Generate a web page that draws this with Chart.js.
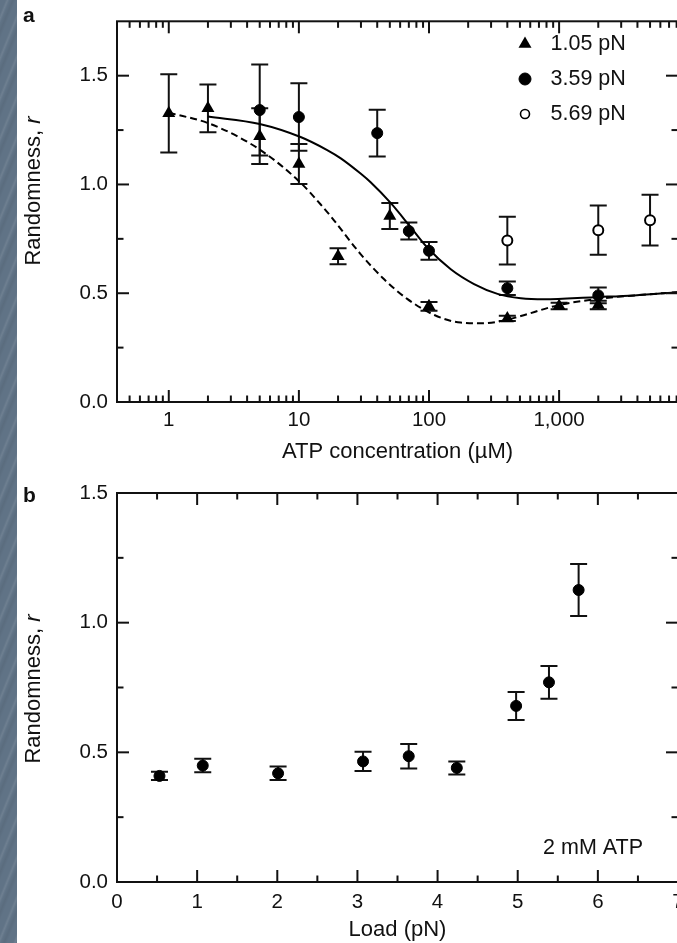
<!DOCTYPE html>
<html><head><meta charset="utf-8">
<script src="https://cdn.jsdelivr.net/npm/chart.js@4.4.1/dist/chart.umd.min.js"></script>
<style>
html,body{margin:0;padding:0;background:#fff;width:677px;height:943px;overflow:hidden;position:relative}
#stripe{position:absolute;left:0;top:0;width:17px;height:943px;z-index:5;background-color:#607386;
background-image:repeating-linear-gradient(112deg,rgba(255,255,255,0) 0px,rgba(255,255,255,0) 5px,rgba(255,255,255,0.09) 7px,rgba(255,255,255,0) 9px,rgba(0,0,0,0.06) 12px,rgba(255,255,255,0) 15px)}
canvas{position:absolute;left:0}
#ca{top:0;width:720px;height:470px}
#cb{top:470px;width:720px;height:473px}
</style></head><body>
<div id="stripe"></div>
<canvas id="ca" width="720" height="470"></canvas>
<canvas id="cb" width="720" height="473"></canvas>
<script>
// ---------- Panel a data ----------
const atpTickValues = [1, 10, 100, 1000];
const atpTickLabels = ['1', '10', '100', '1,000'];
const rTickValues = [0, 0.5, 1.0, 1.5];
const rTickLabels = ['0.0', '0.5', '1.0', '1.5'];
const rMinorTicks = [0.25, 0.75, 1.25];
const seriesLabels = ['1.05 pN', '3.59 pN', '5.69 pN'];

const atp105 = [1, 2, 5, 10, 20, 50, 100, 400, 1000, 2000];
const r105   = [1.327, 1.35, 1.222, 1.094, 0.67, 0.855, 0.44, 0.384, 0.441, 0.446];
const err105 = [0.18, 0.11, 0.128, 0.092, 0.037, 0.06, 0.02, 0.012, 0.015, 0.02];

const atp359 = [5, 10, 40, 70, 100, 400, 2000];
const r359   = [1.342, 1.31, 1.236, 0.786, 0.695, 0.523, 0.49];
const err359 = [0.209, 0.155, 0.107, 0.039, 0.041, 0.031, 0.036];

const atp569 = [400, 2000, 5000];
const r569   = [0.742, 0.79, 0.836];
const err569 = [0.11, 0.113, 0.117];

const fitAtp359 = [2, 5, 10.3, 16.5, 21, 29.8, 35.6, 50.7, 72, 97, 147, 222, 336, 508, 767, 1860, 3775, 8200];
const fitR359   = [1.312, 1.278, 1.218, 1.158, 1.12, 1.05, 1.01, 0.915, 0.805, 0.71, 0.61, 0.542, 0.497, 0.477, 0.472, 0.482, 0.49, 0.505];

const fitAtp105 = [1, 2.09, 5.07, 10.3, 14.6, 17.5, 29.8, 45, 68, 110, 175, 265, 400, 508, 972, 1860, 3775, 8200];
const fitR105   = [1.33, 1.278, 1.158, 1.008, 0.91, 0.855, 0.68, 0.565, 0.474, 0.40, 0.365, 0.362, 0.378, 0.395, 0.444, 0.472, 0.49, 0.505];

// ---------- Panel b data ----------
const loadTickValues = [0, 1, 2, 3, 4, 5, 6, 7];
const loadTickLabels = ['0', '1', '2', '3', '4', '5', '6', '7'];
const loadMinorTicks = [0.5, 1.5, 2.5, 3.5, 4.5, 5.5, 6.5];
const loadPN  = [0.53, 1.07, 2.01, 3.07, 3.64, 4.24, 4.98, 5.39, 5.76];
const rLoad   = [0.409, 0.449, 0.419, 0.465, 0.485, 0.44, 0.679, 0.77, 1.126];
const errLoad = [0.016, 0.026, 0.026, 0.037, 0.047, 0.025, 0.054, 0.063, 0.10];

const FONT = "'Liberation Sans', Arial, Helvetica, sans-serif";
const INK = '#111';
Chart.defaults.font.family = FONT;
Chart.defaults.color = INK;

// minor log ticks (2..9 multiples of each decade inside range)
const atpMinorTicks = [];
[0.1, 1, 10, 100, 1000].forEach(d => { for (let k = 2; k <= 9; k++) { const v = d * k; if (v >= 0.4 && v <= 8200 && v !== 1 && v !== 10 && v !== 100 && v !== 1000) atpMinorTicks.push(v); } });

const pts = (xs, ys) => xs.map((x, i) => ({x, y: ys[i]}));

const errorBarPlugin = {
  id: 'errorBars',
  beforeDatasetsDraw(chart) {
    const {ctx, scales: {x, y}} = chart;
    ctx.save();
    ctx.strokeStyle = INK; ctx.lineWidth = 2;
    chart.data.datasets.forEach(ds => {
      if (!ds.errorBars) return;
      ds.data.forEach((p, i) => {
        const e = ds.errorBars[i];
        const px = x.getPixelForValue(p.x);
        const y1 = y.getPixelForValue(p.y + e), y2 = y.getPixelForValue(p.y - e);
        ctx.beginPath();
        ctx.moveTo(px, y1); ctx.lineTo(px, y2);
        ctx.moveTo(px - 8.5, y1); ctx.lineTo(px + 8.5, y1);
        ctx.moveTo(px - 8.5, y2); ctx.lineTo(px + 8.5, y2);
        ctx.stroke();
      });
    });
    ctx.restore();
  }
};

const frameTicksPlugin = {
  id: 'frameTicks',
  afterDraw(chart, args, o) {
    const {ctx, chartArea: a, scales: {x, y}} = chart;
    ctx.save();
    ctx.strokeStyle = INK;
    ctx.lineWidth = 2;
    ctx.strokeRect(a.left, a.top, a.right - a.left, a.bottom - a.top);
    const seg = (x1, y1, x2, y2) => { ctx.beginPath(); ctx.moveTo(x1, y1); ctx.lineTo(x2, y2); ctx.stroke(); };
    const xt = (v, len) => { const px = x.getPixelForValue(v); seg(px, a.bottom, px, a.bottom - len); seg(px, a.top, px, a.top + len); };
    const yt = (v, len) => { const py = y.getPixelForValue(v); seg(a.left, py, a.left + len, py); seg(a.right, py, a.right - len, py); };
    o.xMajor.forEach(v => xt(v, 12)); o.xMinor.forEach(v => xt(v, 6.5));
    o.yMajor.forEach(v => yt(v, 12)); o.yMinor.forEach(v => yt(v, 6.5));
    ctx.restore();
  }
};

const textPlugin = {
  id: 'extraText',
  afterDraw(chart, args, o) {
    const {ctx} = chart;
    ctx.save();
    ctx.fillStyle = INK;
    ctx.font = 'bold 21px ' + FONT;
    ctx.textAlign = 'left'; ctx.textBaseline = 'alphabetic';
    ctx.fillText(o.letter, 23, o.letterY);
    ctx.translate(40, o.yTitleCenter);
    ctx.rotate(-Math.PI / 2);
    ctx.font = '22px ' + FONT;
    const t1 = 'Randomness, ';
    const w1 = ctx.measureText(t1).width;
    ctx.font = 'italic 22px ' + FONT;
    const w2 = ctx.measureText('r').width;
    const start = -(w1 + w2) / 2;
    ctx.font = '22px ' + FONT;
    ctx.fillText(t1, start, 0);
    ctx.font = 'italic 22px ' + FONT;
    ctx.fillText('r', start + w1, 0);
    ctx.restore();
    if (o.note) {
      ctx.save();
      ctx.fillStyle = INK;
      ctx.font = '21.5px ' + FONT;
      ctx.textAlign = 'right'; ctx.textBaseline = 'alphabetic';
      ctx.fillText(o.note, o.noteX, o.noteY);
      ctx.restore();
    }
  }
};

const legendPlugin = {
  id: 'innerLegend',
  afterDatasetsDraw(chart, args, o) {
    if (!o.rows) return;
    const {ctx} = chart;
    ctx.save();
    o.rows.forEach((dsIndex, k) => {
      const ds = chart.data.datasets[dsIndex];
      const yy = o.y0 + k * o.dy;
      ctx.fillStyle = ds.backgroundColor;
      ctx.strokeStyle = ds.borderColor;
      ctx.lineWidth = o.borderWidths[k];
      Chart.helpers.drawPoint(ctx, {pointStyle: ds.pointStyle, radius: o.radii[k], borderWidth: o.borderWidths[k], rotation: 0}, o.mx, yy);
      ctx.fillStyle = INK;
      ctx.font = '21.5px ' + FONT;
      ctx.textAlign = 'left'; ctx.textBaseline = 'middle';
      ctx.fillText(ds.label, o.tx, yy + 0.5);
    });
    ctx.restore();
  }
};

const tickFont = {family: FONT, size: 20.5};
const titleFont = {family: FONT, size: 22};

// ---------- Chart a ----------
new Chart(document.getElementById('ca'), {
  type: 'scatter',
  data: {
    datasets: [
      {label: seriesLabels[0], data: pts(atp105, r105), errorBars: err105, pointStyle: 'triangle', pointRadius: 7.5, backgroundColor: '#000', borderColor: '#000', borderWidth: 0, order: 1},
      {label: seriesLabels[1], data: pts(atp359, r359), errorBars: err359, pointStyle: 'circle', pointRadius: 5.5, backgroundColor: '#000', borderColor: '#000', borderWidth: 1, order: 1},
      {label: seriesLabels[2], data: pts(atp569, r569), errorBars: err569, pointStyle: 'circle', pointRadius: 5, backgroundColor: '#fff', borderColor: '#000', borderWidth: 2, order: 1},
      {label: 'fit 3.59 pN', data: pts(fitAtp359, fitR359), showLine: true, pointRadius: 0, borderColor: '#000', borderWidth: 2, cubicInterpolationMode: 'monotone', order: 3},
      {label: 'fit 1.05 pN', data: pts(fitAtp105, fitR105), showLine: true, pointRadius: 0, borderColor: '#000', borderWidth: 2, borderDash: [7, 4], cubicInterpolationMode: 'monotone', order: 3}
    ]
  },
  options: {
    responsive: false, animation: false, devicePixelRatio: 1,
    layout: {padding: {left: 0, right: 42, top: 14, bottom: 0}},
    plugins: {
      legend: {display: false}, tooltip: {enabled: false},
      frameTicks: {xMajor: atpTickValues, xMinor: atpMinorTicks, yMajor: rTickValues, yMinor: rMinorTicks},
      extraText: {letter: 'a', letterY: 22, yTitleCenter: 191},
      innerLegend: {rows: [0, 1, 2], mx: 525, y0: 44, dy: 35, tx: 550.5, radii: [7.5, 6, 4.5], borderWidths: [0, 1, 1.6]}
    },
    scales: {
      x: {
        type: 'logarithmic', position: 'bottom', min: 0.4, max: 8200,
        afterBuildTicks(s) { s.ticks = atpTickValues.map(v => ({value: v})); },
        afterFit(s) { s.height = 68; },
        grid: {display: false, drawTicks: false}, border: {display: false},
        ticks: {padding: 6, color: INK, font: tickFont, maxRotation: 0, autoSkip: false, callback: (v, i) => atpTickLabels[i]},
        title: {display: true, text: 'ATP concentration (µM)', color: INK, font: titleFont, padding: {top: 0, bottom: 5}}
      },
      y: {
        min: 0, max: 1.75,
        afterBuildTicks(s) { s.ticks = rTickValues.map(v => ({value: v})); },
        afterFit(s) { s.width = 117; },
        grid: {display: false, drawTicks: false}, border: {display: false},
        ticks: {padding: 9, color: INK, font: tickFont, callback: (v, i) => rTickLabels[i]}
      }
    }
  },
  plugins: [errorBarPlugin, frameTicksPlugin, textPlugin, legendPlugin]
});

// ---------- Chart b ----------
new Chart(document.getElementById('cb'), {
  type: 'scatter',
  data: {
    datasets: [
      {label: '2 mM ATP', data: pts(loadPN, rLoad), errorBars: errLoad, pointStyle: 'circle', pointRadius: 5.5, backgroundColor: '#000', borderColor: '#000', borderWidth: 1}
    ]
  },
  options: {
    responsive: false, animation: false, devicePixelRatio: 1,
    layout: {padding: {left: 0, right: 42, top: 23, bottom: 0}},
    plugins: {
      legend: {display: false}, tooltip: {enabled: false},
      frameTicks: {xMajor: loadTickValues, xMinor: loadMinorTicks, yMajor: rTickValues, yMinor: rMinorTicks},
      extraText: {letter: 'b', letterY: 31.5, yTitleCenter: 219, note: '2 mM ATP', noteX: 643, noteY: 383.5},
      innerLegend: {}
    },
    scales: {
      x: {
        type: 'linear', position: 'bottom', min: 0, max: 7,
        afterBuildTicks(s) { s.ticks = loadTickValues.map(v => ({value: v})); },
        afterFit(s) { s.height = 61; },
        grid: {display: false, drawTicks: false}, border: {display: false},
        ticks: {padding: 8.5, color: INK, font: tickFont, maxRotation: 0, autoSkip: false, callback: (v, i) => loadTickLabels[i]},
        title: {display: true, text: 'Load (pN)', color: INK, font: titleFont, padding: {top: 0, bottom: 0}}
      },
      y: {
        min: 0, max: 1.5,
        afterBuildTicks(s) { s.ticks = rTickValues.map(v => ({value: v})); },
        afterFit(s) { s.width = 117; },
        grid: {display: false, drawTicks: false}, border: {display: false},
        ticks: {padding: 9, color: INK, font: tickFont, callback: (v, i) => rTickLabels[i]}
      }
    }
  },
  plugins: [errorBarPlugin, frameTicksPlugin, textPlugin, legendPlugin]
});
</script>
</body></html>
